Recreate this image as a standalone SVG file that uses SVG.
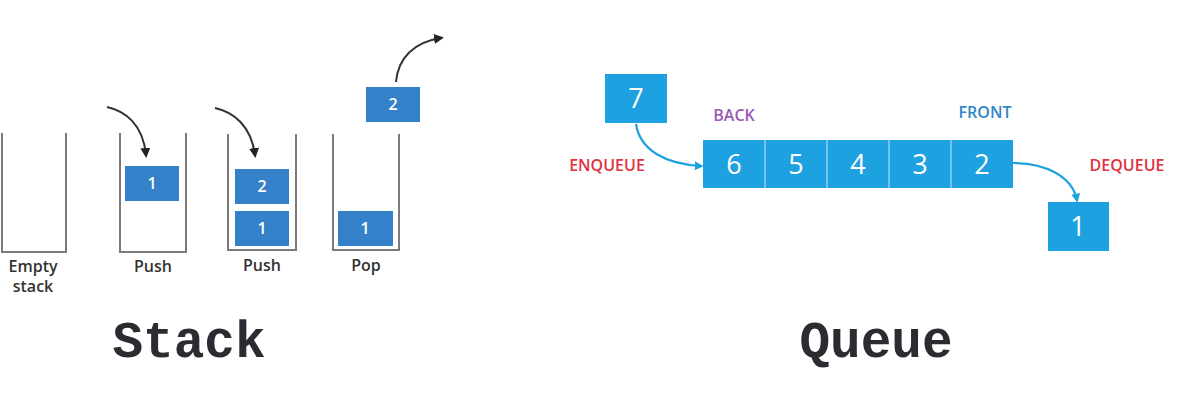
<svg xmlns="http://www.w3.org/2000/svg" width="1194" height="406" viewBox="0 0 1194 406">
<defs>
<style>
.cont{fill:none;stroke:#7a7a7a;stroke-width:2}
.sbox{fill:#3581c9}
.qbox{fill:#1ea1e1}
.qline{stroke:#8fd0f0;stroke-width:1.5}
.snum{font-family:"Open Sans",sans-serif;font-size:16px;font-weight:600;fill:#ffffff;text-anchor:middle}
.qnum{font-family:"Open Sans",sans-serif;font-size:27px;fill:#ffffff;text-anchor:middle}
.lbl{font-family:"Open Sans",sans-serif;font-size:16px;font-weight:600;fill:#333333;text-anchor:middle}
.qlbl{font-family:"Open Sans",sans-serif;font-size:16px;font-weight:600;text-anchor:middle}
.title{font-family:"Liberation Mono",monospace;font-size:51px;font-weight:bold;fill:#2a2c32;text-anchor:middle}
.sarrow{fill:none;stroke:#333333;stroke-width:2;marker-end:url(#ah)}
.qarrow{fill:none;stroke:#1ea1e1;stroke-width:2.2;marker-end:url(#qh)}
</style>
<marker id="ah" markerWidth="10" markerHeight="10" refX="7" refY="5" orient="auto" markerUnits="userSpaceOnUse" viewBox="0 0 10 10">
<path d="M0,0 L10,5 L0,10 Z" fill="#222222"/>
</marker>
<marker id="qh" markerWidth="9" markerHeight="9" refX="7" refY="5" orient="auto" markerUnits="userSpaceOnUse" viewBox="0 0 10 10">
<path d="M0,0 L10,5 L0,10 Z" fill="#1ea1e1"/>
</marker>
</defs>
<rect width="1194" height="406" fill="#ffffff"/>

<g id="stack-empty">
<path class="cont" d="M2,133 V252 H66 V133"/>
<text class="lbl" x="33" y="272">Empty</text>
<text class="lbl" x="33" y="292">stack</text>
</g>

<g id="stack-push1">
<path class="cont" d="M120,133 V252 H186 V133"/>
<rect class="sbox" x="125" y="166" width="54" height="35"/>
<text class="snum" x="152" y="189">1</text>
<text class="lbl" x="153" y="272">Push</text>
</g>

<g id="stack-push2">
<path class="cont" d="M228,134 V250 H296 V134"/>
<rect class="sbox" x="235" y="169" width="54" height="35"/>
<text class="snum" x="262" y="192">2</text>
<rect class="sbox" x="235" y="211" width="54" height="35"/>
<text class="snum" x="262" y="234">1</text>
<text class="lbl" x="262" y="271">Push</text>
</g>

<g id="stack-pop">
<path class="cont" d="M333,134 V250 H399 V134"/>
<rect class="sbox" x="338" y="211" width="55" height="35"/>
<text class="snum" x="365" y="234">1</text>
<rect class="sbox" x="366" y="87" width="54" height="35"/>
<text class="snum" x="393" y="110">2</text>
<text class="lbl" x="366" y="271">Pop</text>
</g>

<g id="queue-new">
<rect class="qbox" x="605" y="74" width="62" height="49"/>
<text class="qnum" x="636" y="108">7</text>
</g>

<g id="queue-row">
<rect class="qbox" x="703" y="140" width="310" height="48"/>
<line class="qline" x1="765" y1="140" x2="765" y2="188"/>
<line class="qline" x1="827" y1="140" x2="827" y2="188"/>
<line class="qline" x1="889" y1="140" x2="889" y2="188"/>
<line class="qline" x1="951" y1="140" x2="951" y2="188"/>
<text class="qnum" x="734" y="174">6</text>
<text class="qnum" x="796" y="174">5</text>
<text class="qnum" x="858" y="174">4</text>
<text class="qnum" x="920" y="174">3</text>
<text class="qnum" x="982" y="174">2</text>
</g>

<g id="queue-out">
<rect class="qbox" x="1048" y="202" width="61" height="49"/>
<text class="qnum" x="1078" y="236">1</text>
</g>

<g id="labels">
<text class="qlbl" x="734" y="121" fill="#9b59b6">BACK</text>
<text class="qlbl" x="985" y="118" fill="#2f86c8">FRONT</text>
<text class="qlbl" x="607" y="171" fill="#e0323f">ENQUEUE</text>
<text class="qlbl" x="1127" y="171" fill="#e0323f">DEQUEUE</text>
<text class="title" x="189" y="357">Stack</text>
<text class="title" x="876" y="357">Queue</text>
</g>

<g id="connectors">
<path class="sarrow" d="M107,107 C125,111 143,124 146,155"/>
<path class="sarrow" d="M215,108 C233,112 251,125 255,155"/>
<path class="sarrow" d="M396,82 C398,58 414,42 441,38"/>
<path class="qarrow" d="M636,124 C640,150 665,164 701,166"/>
<path class="qarrow" d="M1013,163 C1045,163 1072,176 1077,200"/>
</g>
</svg>
